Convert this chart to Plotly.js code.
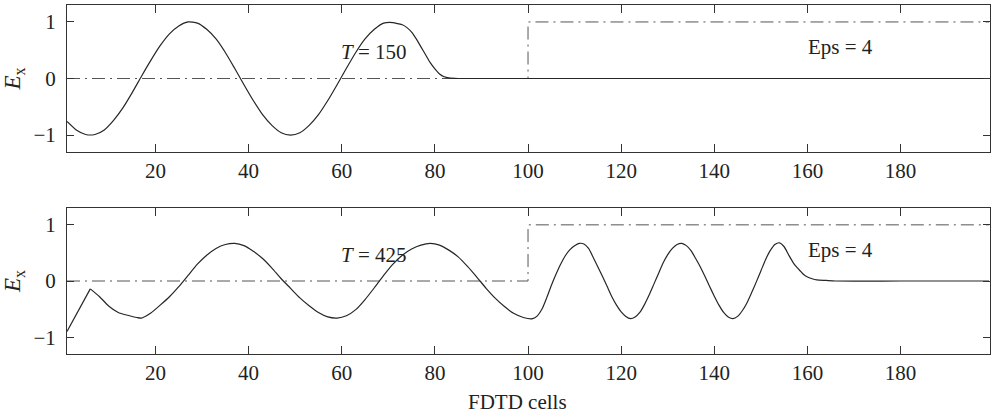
<!DOCTYPE html>
<html>
<head>
<meta charset="utf-8">
<script src="https://cdn.plot.ly/plotly-3.0.1.min.js"></script>
<style>html,body{margin:0;padding:0;background:#fff;}#chart{width:992px;height:413px;}</style>
</head>
<body>
<div id="chart"></div>
<script>
// Top panel: T = 150
const cellsTop = [1,3,5,7,9,11,13,15,17,19,21,23,25,27,29,31,33,35,37,39,41,43,45,47,49,51,53,55,57,59,61,63,65,67,69,71,72,73,74,75,76,77,78,79,80,81,82,83,85,87,100,120,140,160,180,199];
const exTop = [-0.76,-0.91,-0.99,-0.99,-0.91,-0.74,-0.52,-0.25,0.04,0.32,0.58,0.79,0.93,1.0,0.98,0.87,0.70,0.46,0.18,-0.11,-0.39,-0.64,-0.83,-0.96,-1.0,-0.96,-0.83,-0.64,-0.39,-0.11,0.18,0.46,0.70,0.87,0.98,0.99,0.97,0.95,0.90,0.82,0.70,0.56,0.42,0.28,0.17,0.08,0.03,0.01,0,0,0,0,0,0,0,0];

// Bottom panel: T = 425 (free-space part up to the kink, then the rest)
const cellsBotA = [1,6];
const exBotA = [-0.90,-0.14];
const cellsBot = [6,8,10,12,14,16,17,19,21,23,25,27,29,31,33,35,37,39,41,43,45,47,49,51,53,55,57,59,61,63,65,67,69,71,73,75,77,79,81,83,85,87,89,91,93,95,97,99,101,102,103,104,105,106,107,108,109,110,111,112,113,114,115,116,117,118,119,120,121,122,123,124,125,126,127,128,129,130,131,132,133,134,135,136,137,138,139,140,141,142,143,144,145,146,147,148,149,150,151,152,153,154,155,156,157,158,159,160,161,162,164,166,180,199];
const exBot = [-0.14,-0.28,-0.45,-0.56,-0.61,-0.65,-0.66,-0.57,-0.43,-0.28,-0.10,0.10,0.30,0.46,0.58,0.65,0.67,0.63,0.53,0.40,0.23,0.04,-0.13,-0.30,-0.44,-0.56,-0.64,-0.66,-0.62,-0.51,-0.33,-0.12,0.10,0.30,0.46,0.57,0.64,0.67,0.64,0.55,0.43,0.26,0.07,-0.13,-0.31,-0.46,-0.58,-0.65,-0.67,-0.62,-0.50,-0.30,-0.08,0.12,0.30,0.45,0.56,0.63,0.67,0.66,0.58,0.42,0.25,0.08,-0.10,-0.28,-0.43,-0.55,-0.63,-0.67,-0.64,-0.56,-0.42,-0.25,-0.06,0.13,0.32,0.47,0.58,0.65,0.67,0.63,0.54,0.40,0.25,0.08,-0.10,-0.27,-0.43,-0.56,-0.64,-0.67,-0.63,-0.53,-0.39,-0.21,-0.02,0.18,0.38,0.54,0.65,0.68,0.61,0.46,0.32,0.22,0.13,0.07,0.04,0.02,0.01,0,0,0];

// Dielectric profile (dash-dot)
const epsX = [1,100,100,199];
const epsY = [0,0,1,1];

const xTicks = [20,40,60,80,100,120,140,160,180];
const yTicks = [-1,0,1];
const labelsTop = ["<i>T</i> = 150","Eps = 4"];
const labelsBot = ["<i>T</i> = 425","Eps = 4"];
const xTitle = "FDTD cells";
const yTitle = "<i>E</i><sub>x</sub>";

const serif = "'Liberation Serif', 'Times New Roman', serif";
const lineColor = "#262626";
const dashPat = "13px,5px,2px,5px";

const traces = [
  {x: epsX, y: epsY, xaxis:'x', yaxis:'y', mode:'lines', line:{color:'#555', width:1, dash:dashPat}, hoverinfo:'skip'},
  {x: cellsTop, y: exTop, xaxis:'x', yaxis:'y', mode:'lines', line:{color:lineColor, width:1.2, shape:'spline', smoothing:0.6}},
  {x: epsX, y: epsY, xaxis:'x2', yaxis:'y2', mode:'lines', line:{color:'#555', width:1, dash:dashPat}, hoverinfo:'skip'},
  {x: cellsBotA, y: exBotA, xaxis:'x2', yaxis:'y2', mode:'lines', line:{color:lineColor, width:1.2}},
  {x: cellsBot, y: exBot, xaxis:'x2', yaxis:'y2', mode:'lines', line:{color:lineColor, width:1.2, shape:'spline', smoothing:0.6}}
];

function xax(anchor) {
  return {
    anchor: anchor, range:[1,199.2], tickvals:xTicks, ticks:'inside', ticklen:8, tickcolor:'#333',
    showline:true, linecolor:'#333', linewidth:1, mirror:'ticks', showgrid:false, zeroline:false,
    tickfont:{family:serif, size:21, color:'#222'}
  };
}
function yax(anchor, domain) {
  return {
    anchor: anchor, domain: domain, range:[-1.3,1.3], tickvals:yTicks, ticks:'inside', ticklen:7, tickcolor:'#333',
    showline:true, linecolor:'#333', linewidth:1, mirror:'ticks', showgrid:false, zeroline:false,
    tickfont:{family:serif, size:21, color:'#222'}, ticklabelstandoff:6,
    title:{text:yTitle, font:{family:serif, size:23, color:'#222'}, standoff:10}
  };
}

const ann = [];
function addAnn(text, x, y, xr, yr) {
  ann.push({text:text, x:x, y:y, xref:xr, yref:yr, showarrow:false, font:{family:serif, size:21, color:'#222'}});
}
addAnn(labelsTop[0], 67, 0.46, 'x', 'y');
addAnn(labelsTop[1], 167, 0.55, 'x', 'y');
addAnn(labelsBot[0], 67, 0.46, 'x2', 'y2');
addAnn(labelsBot[1], 167, 0.55, 'x2', 'y2');
ann.push({text:xTitle, xref:'paper', yref:'paper', x:(517-67)/923, y:-(402-354)/349, xanchor:'center', yanchor:'middle', showarrow:false, font:{family:serif, size:21, color:'#222'}});

const layout = {
  width:992, height:413, margin:{l:67, r:2, t:5, b:59},
  paper_bgcolor:'#fff', plot_bgcolor:'#fff', showlegend:false,
  font:{family:serif},
  xaxis: xax('y'), yaxis: yax('x', [0.5788,1]),
  xaxis2: xax('y2'), yaxis2: yax('x2', [0,0.4183]),
  annotations: ann
};

Plotly.newPlot('chart', traces, layout, {displayModeBar:false, staticPlot:true});
</script>
</body>
</html>
